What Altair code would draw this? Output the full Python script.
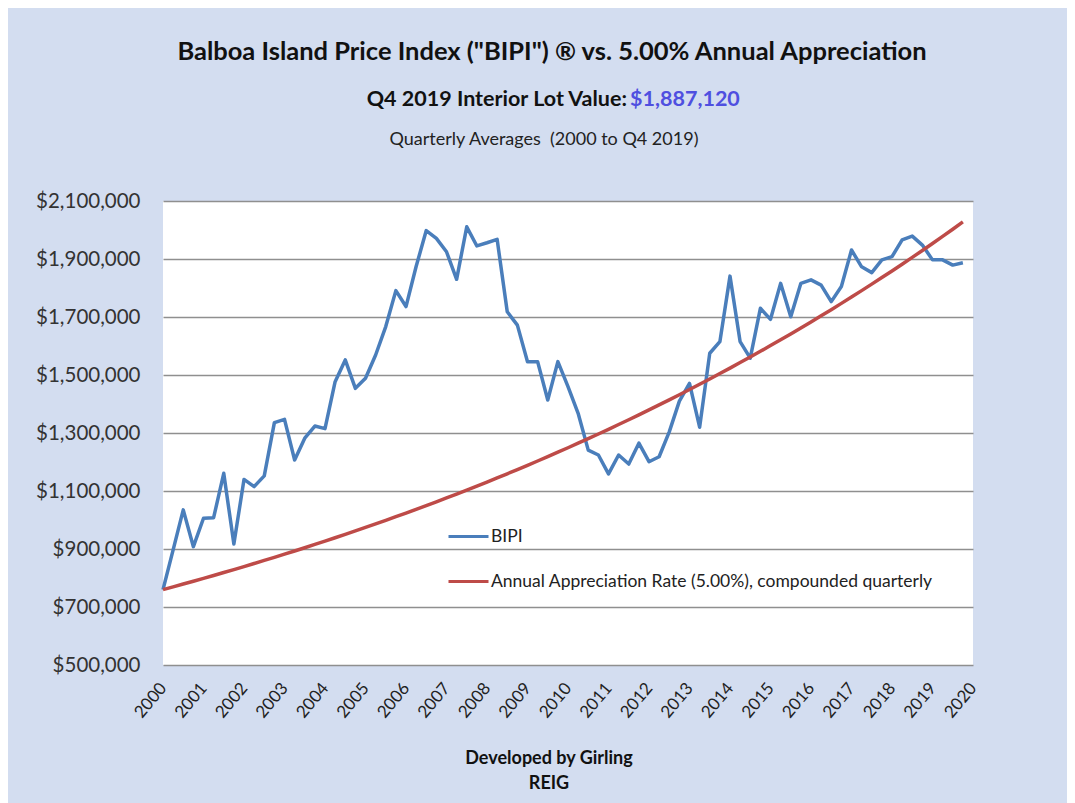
import altair as alt
import pandas as pd

# ---- data ----
start_year = 2000
n_quarters = 80
quarter_offsets = [0.0, 0.25, 0.5, 0.75]

bipi_values = [
    760000, 897000, 1035000, 908000, 1006000, 1008000, 1161000, 917000,
    1140000, 1115000, 1152000, 1336000, 1347000, 1207000, 1282000, 1324000,
    1315000, 1477000, 1552000, 1454000, 1489000, 1569000, 1667000, 1791000,
    1736000, 1874000, 1998000, 1971000, 1925000, 1830000, 2011000, 1945000,
    1956000, 1968000, 1718000, 1672000, 1546000, 1546000, 1414000, 1546000,
    1460000, 1368000, 1241000, 1224000, 1159000, 1224000, 1193000, 1265000,
    1201000, 1218000, 1304000, 1410000, 1471000, 1320000, 1575000, 1615000,
    1841000, 1615000, 1558000, 1730000, 1692000, 1816000, 1701000, 1816000,
    1828000, 1810000, 1753000, 1805000, 1931000, 1873000, 1853000, 1897000,
    1908000, 1966000, 1979000, 1948000, 1897000, 1897000, 1879000, 1887120,
]

appreciation_values = [
    760000, 769500, 779119, 788858, 798719, 808703, 818812, 829047,
    839410, 849903, 860527, 871283, 882174, 893201, 904366, 915671,
    927117, 938706, 950440, 962321, 974350, 986529, 998861, 1011347,
    1023989, 1036789, 1049749, 1062871, 1076157, 1089609, 1103229, 1117019,
    1130982, 1145119, 1159433, 1173926, 1188600, 1203458, 1218501, 1233732,
    1249154, 1264768, 1280578, 1296585, 1312792, 1329202, 1345817, 1362640,
    1379673, 1396919, 1414380, 1432060, 1449961, 1468086, 1486437, 1505017,
    1523830, 1542878, 1562164, 1581691, 1601462, 1621480, 1641748, 1662270,
    1683048, 1704086, 1725387, 1746954, 1768791, 1790901, 1813287, 1835953,
    1858902, 1882138, 1905665, 1929486, 1953605, 1978025, 2002750, 2027784,
]

series_names = ["BIPI", "Annual Appreciation Rate (5.00%), compounded quarterly"]
series_colors = ["#4A7EBB", "#BE4B48"]
year_ticks = list(range(2000, 2021))
y_ticks = [500000, 700000, 900000, 1100000, 1300000, 1500000, 1700000, 1900000, 2100000]

title_line1 = 'Balboa Island Price Index ("BIPI") ® vs. 5.00% Annual Appreciation'
title_line2a = "Q4 2019 Interior Lot Value: "
title_line2b = "$1,887,120"
title_line3 = "Quarterly Averages\u00a0 (2000 to Q4 2019)"
footer1 = "Developed by Girling"
footer2 = "REIG"

FONT = "Lato"

# ---- table ----
times = [start_year + y + q for y in range(n_quarters // 4) for q in quarter_offsets]
rows = []
for name, vals in zip(series_names, [bipi_values, appreciation_values]):
    for t, v in zip(times, vals):
        rows.append({"time": t, "value": v, "series": name})
df = pd.DataFrame(rows)

W, H = 810, 464

lines = alt.Chart(df).mark_line(strokeWidth=3.5, strokeJoin="round").encode(
    x=alt.X("time:Q",
            scale=alt.Scale(domain=[2000, 2020], nice=False, zero=False),
            axis=alt.Axis(values=year_ticks, format="d", title=None, grid=False,
                          domain=False, ticks=False, labelAngle=-50,
                          labelAlign="right", labelBaseline="middle",
                          labelPadding=20, labelFontSize=17, labelColor="#222222",
                          labelFont=FONT, labelOverlap=False)),
    y=alt.Y("value:Q",
            scale=alt.Scale(domain=[500000, 2100000], nice=False, zero=False),
            axis=alt.Axis(values=y_ticks, format="$,.0f", title=None, grid=True,
                          gridColor="#8f8f8f", gridWidth=1.6, domain=False,
                          ticks=False, labelPadding=23, labelFontSize=20.5,
                          labelColor="#333333", labelFont=FONT)),
    color=alt.Color("series:N",
                    scale=alt.Scale(domain=series_names, range=series_colors),
                    legend=alt.Legend(title=None, orient="none", legendX=284,
                                      legendY=314, symbolType="stroke",
                                      symbolSize=1600, symbolStrokeWidth=3,
                                      labelFontSize=17.5, labelFont=FONT,
                                      labelColor="#222222", rowPadding=15,
                                      labelOffset=1, padding=0, labelLimit=0)),
    order=alt.Order("time:Q"),
)

one = pd.DataFrame({"a": [0]})


def txt(text, x, y, size, weight="normal", color="#111111", align="center"):
    return alt.Chart(one).mark_text(
        text=text, fontSize=size, fontWeight=weight, color=color, align=align,
        baseline="middle", font=FONT
    ).encode(x=alt.value(x), y=alt.value(y))


t1 = txt(title_line1, 389, -149, 25.5, "bold")
t2a = txt(title_line2a, 464, -101, 21.5, "bold", align="right")
t2b = txt(title_line2b, 467, -101, 21.5, "bold", color="#4F4FE0", align="left")
t3 = txt(title_line3, 381, -61, 18, "normal", color="#222222")
f1 = txt(footer1, 386, 558, 18, "bold")
f2 = txt(footer2, 386, 583, 18, "bold")

chart = alt.layer(lines, t1, t2a, t2b, t3, f1, f2).properties(
    width=W, height=H,
    padding={"left": 155, "top": 193, "right": 94, "bottom": 138},
    autosize=alt.AutoSizeParams(type="none"),
).configure(background="#d3ddf0").configure_view(strokeWidth=0, fill="white")

chart.save("out.html", embed_options={"renderer": "svg", "actions": False})
